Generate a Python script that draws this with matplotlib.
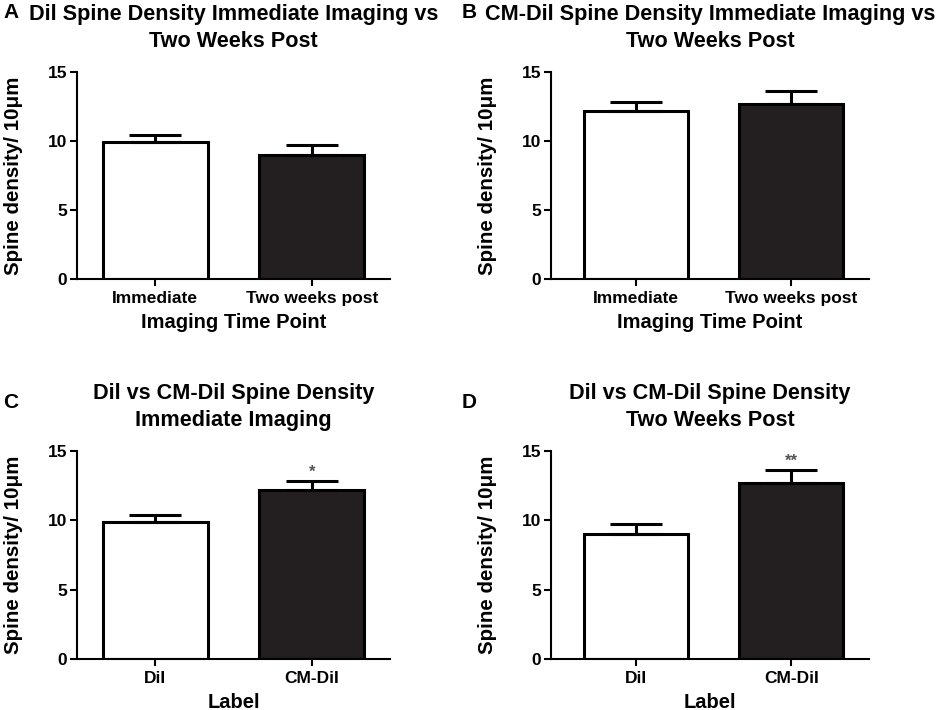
import matplotlib
matplotlib.use("Agg")
import matplotlib.pyplot as plt

# ------------------------------------
# DATA
# ------------------------------------
time_points = ["Immediate", "Two weeks post"]
labels = ["DiI", "CM-DiI"]

dil_mean = [9.9, 9.0]          # immediate, two weeks post
dil_sem = [0.5, 0.7]
cmdil_mean = [12.2, 12.7]
cmdil_sem = [0.65, 0.95]

stars_c = ["", "*"]
stars_d = ["", "**"]

# ------------------------------------
# STYLE
# ------------------------------------
plt.rcParams["font.family"] = ["Liberation Sans", "DejaVu Sans"]
plt.rcParams["font.weight"] = "bold"

BAR_COLORS = ["white", "#231f20"]
EDGE = "black"
W, H = 937, 710

fig = plt.figure(figsize=(9.37, 7.1), dpi=100)


def px_axes(left, top, right, bottom):
    return fig.add_axes([left / W, 1 - bottom / H, (right - left) / W, (bottom - top) / H])


panels = [
    # letter, axes box in px, xlim left, title, cats, means, errs, xlabel, stars
    ("A", (77, 72, 390, 279), -0.5,
     "Dil Spine Density Immediate Imaging vs\nTwo Weeks Post",
     time_points, dil_mean, dil_sem, "Imaging Time Point", None),
    ("B", (551, 72, 869, 279), -0.55,
     "CM-Dil Spine Density Immediate Imaging vs\nTwo Weeks Post",
     time_points, cmdil_mean, cmdil_sem, "Imaging Time Point", None),
    ("C", (77, 451, 390, 659), -0.5,
     "Dil vs CM-Dil Spine Density\nImmediate Imaging",
     labels, [dil_mean[0], cmdil_mean[0]], [dil_sem[0], cmdil_sem[0]], "Label", stars_c),
    ("D", (551, 451, 869, 659), -0.55,
     "Dil vs CM-Dil Spine Density\nTwo Weeks Post",
     labels, [dil_mean[1], cmdil_mean[1]], [dil_sem[1], cmdil_sem[1]], "Label", stars_d),
]

for letter, box, xl, title, cats, means, errs, xlabel, stars in panels:
    ax = px_axes(*box)
    x = list(range(len(cats)))
    ax.bar(x, means, width=0.67, color=BAR_COLORS, edgecolor=EDGE,
           linewidth=2.2, zorder=2)
    ax.errorbar(x, means, yerr=[[0] * len(errs), errs], fmt="none",
                ecolor=EDGE, elinewidth=2.2, capsize=19, capthick=2.2, zorder=3)
    if stars:
        for xi, m, e, s in zip(x, means, errs, stars):
            if s:
                ax.text(xi, m + e + 0.1, s, ha="center", va="bottom",
                        fontsize=12, color="#555555")

    ax.set_xlim(xl, 1.5)
    ax.set_ylim(0, 15)
    ax.set_yticks([0, 5, 10, 15])
    ax.set_xticks(x)
    ax.set_xticklabels(cats)
    for side in ("top", "right"):
        ax.spines[side].set_visible(False)
    for side in ("left", "bottom"):
        ax.spines[side].set_linewidth(1.5)
    ax.tick_params(axis="both", direction="out", length=5, width=1.5,
                   labelsize=12.5)
    ax.tick_params(axis="y", pad=2)
    ax.set_ylabel("Spine density/ 10μm", fontsize=14.8, fontweight="bold", labelpad=18)
    ax.set_xlabel(xlabel, fontsize=14.5, fontweight="bold", labelpad=5)
    ax.set_title(title, fontsize=15.6, fontweight="bold", pad=18, linespacing=1.4)

    lx = 3 if box[0] < 300 else 462
    ly = 13 if box[1] < 300 else 403
    fig.text(lx / W, 1 - ly / H, letter, fontsize=15, fontweight="bold",
             ha="left", va="center")

fig.savefig("out.png", dpi=100)
